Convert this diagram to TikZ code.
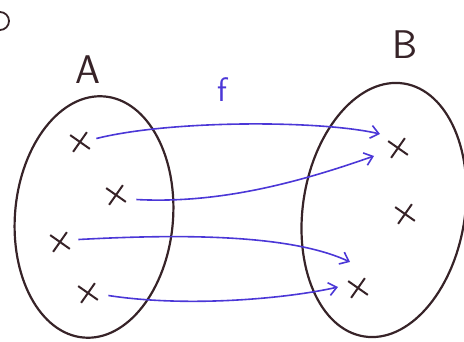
\documentclass[tikz,border=0pt]{standalone}
\usetikzlibrary{shapes.misc,arrows.meta}
\definecolor{ink}{RGB}{55,35,40}
\definecolor{pen}{RGB}{75,55,215}
\begin{document}
\begin{tikzpicture}[x=1pt,y=1pt,
  setline/.style={draw=ink,line width=2.2pt},
  elem/.style={cross out,draw=ink,line width=2pt,minimum size=15pt,inner sep=0pt,rotate=10},
  lab/.style={font=\sffamily\fontsize{40}{40}\selectfont,text=ink},
  mapto/.style={draw=pen,line width=1.6pt,-{Straight Barb[length=8pt,width=13pt,line width=1.6pt]}}]
\useasboundingbox (0,0) rectangle (464,342);
% sets
\draw[setline,rotate around={-5:(94,125)}] (94,125) ellipse [x radius=79,y radius=121];
\draw[setline,rotate around={-9:(384,132)}] (384,132) ellipse [x radius=81,y radius=128];
% labels
\node[lab] (A) at (88,272) {A};
\node[lab] (B) at (405,297) {B};
\node[lab,text=pen,font=\sffamily\fontsize{34}{34}\selectfont] (f) at (222,252) {f};
\draw[ink,line width=1.8pt] (0,330) arc[start angle=90,end angle=-90,radius=9];
% elements of A
\node[elem] (a1) at (80,200) {};
\node[elem] (a2) at (116,147) {};
\node[elem] (a3) at (60,100) {};
\node[elem] (a4) at (88,49) {};
% elements of B
\node[elem] (b1) at (398,194) {};
\node[elem] (b2) at (405,128) {};
\node[elem] (b3) at (358,54) {};
% targets of arrows
\coordinate (t1) at (380,208);
\coordinate (t2) at (374,186);
\coordinate (t3) at (350,80);
\coordinate (t4) at (338,55);
% mappings
\draw[mapto] (a1.east) ++(8,2) .. controls (170,222) and (320,222) .. (t1);
\draw[mapto] (a2.east) ++(12,-6) .. controls (220,138) and (300,160) .. (t2);
\draw[mapto] (a3.east) ++(10,1) .. controls (180,108) and (290,108) .. (t3);
\draw[mapto] (a4.east) ++(12,-4) .. controls (190,34) and (290,44) .. (t4);
\end{tikzpicture}
\end{document}
